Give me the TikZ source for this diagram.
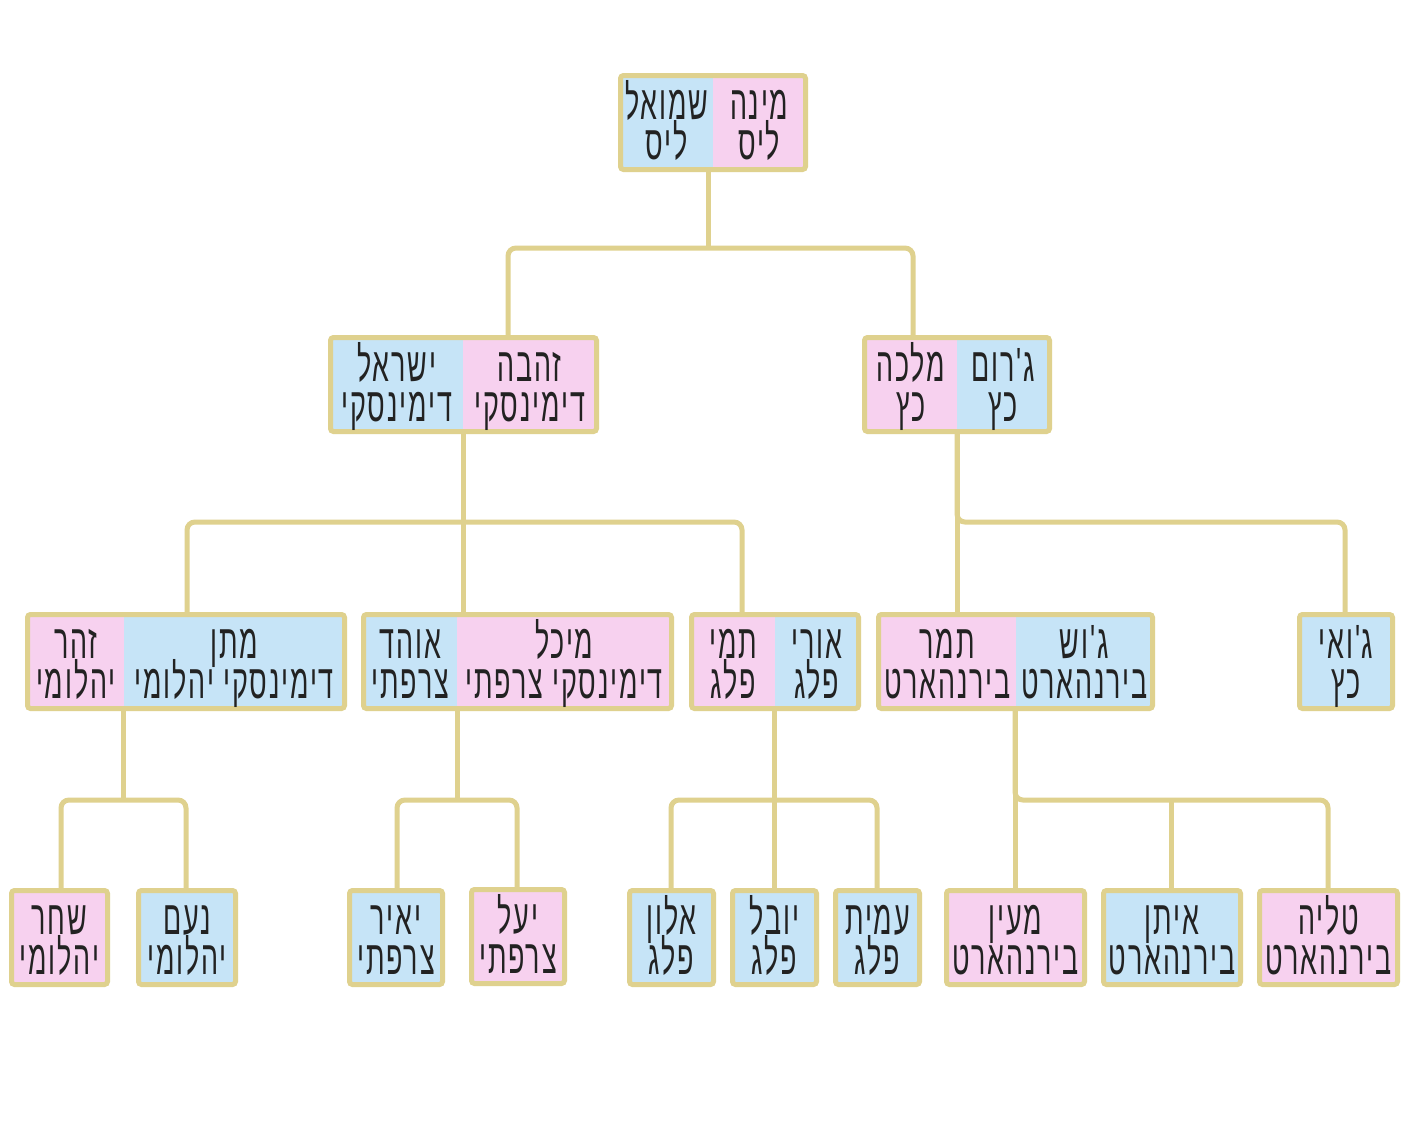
\documentclass[tikz,border=0pt]{standalone}
\usepackage{fontspec}
\usetikzlibrary{fit}
\TeXXeTstate=1
\newfontfamily\hebfont[Script=Hebrew,FakeStretch=0.56,LetterSpace=3.8]{Liberation Sans}
\definecolor{cb}{HTML}{C6E4F7}
\definecolor{cp}{HTML}{F7D1EF}
\definecolor{brd}{HTML}{DFD18E}
\definecolor{ink}{HTML}{222222}
\newcommand\tl[3]{%
  \node[txt] (#1a) at ([yshift=3pt]#1.center) {#2};
  \node[txt] (#1b) at ([yshift=-37pt]#1.center) {#3};}
\begin{document}
\begin{tikzpicture}[x=1pt,y=-1pt,
 half/.style={fill=#1, inner sep=0pt, outer sep=0pt, draw=none},
 txt/.style={anchor=base, inner sep=0pt, text=ink, text height=31pt, text depth=3pt,
   font=\hebfont\fontsize{48}{41}\selectfont},
 frame/.style={draw=brd, line width=5pt, rounded corners=3pt},
 conn/.style={draw=brd, line width=5pt, rounded corners=8pt}]
\useasboundingbox[fill=white] (0,0) rectangle (1420,1130);
% root
\node[half=cb, fit={(620.5,75.5) (713,169.5)}] (rootL) {};
\node[half=cp, fit={(713,75.5) (805.5,169.5)}] (rootR) {};
\draw[frame] (rootL.north west) rectangle (rootR.south east);
\tl{rootL}{\beginR שמואל\endR}{\beginR ליס\endR}
\tl{rootR}{\beginR מינה\endR}{\beginR ליס\endR}
% level 2
\node[half=cb, fit={(330.5,337.5) (463,431.5)}] (AL) {};
\node[half=cp, fit={(463,337.5) (596.5,431.5)}] (AR) {};
\draw[frame] (AL.north west) rectangle (AR.south east);
\tl{AL}{\beginR ישראל\endR}{\beginR דימינסקי\endR}
\tl{AR}{\beginR זהבה\endR}{\beginR דימינסקי\endR}
\node[half=cp, fit={(864.5,337.5) (957,431.5)}] (BL) {};
\node[half=cb, fit={(957,337.5) (1049.5,431.5)}] (BR) {};
\draw[frame] (BL.north west) rectangle (BR.south east);
\tl{BL}{\beginR מלכה\endR}{\beginR כץ\endR}
\tl{BR}{\beginR ג'רום\endR}{\beginR כץ\endR}
% level 3
\node[half=cp, fit={(27.5,614.5) (124,708.5)}] (CL) {};
\node[half=cb, fit={(124,614.5) (344.5,708.5)}] (CR) {};
\draw[frame] (CL.north west) rectangle (CR.south east);
\tl{CL}{\beginR זהר\endR}{\beginR יהלומי\endR}
\tl{CR}{\beginR מתן\endR}{\beginR דימינסקי יהלומי\endR}
\node[half=cb, fit={(363.5,614.5) (457,708.5)}] (DL) {};
\node[half=cp, fit={(457,614.5) (671.5,708.5)}] (DR) {};
\draw[frame] (DL.north west) rectangle (DR.south east);
\tl{DL}{\beginR אוהד\endR}{\beginR צרפתי\endR}
\tl{DR}{\beginR מיכל\endR}{\beginR דימינסקי צרפתי\endR}
\node[half=cp, fit={(691.5,614.5) (775,708.5)}] (EL) {};
\node[half=cb, fit={(775,614.5) (858.5,708.5)}] (ER) {};
\draw[frame] (EL.north west) rectangle (ER.south east);
\tl{EL}{\beginR תמי\endR}{\beginR פלג\endR}
\tl{ER}{\beginR אורי\endR}{\beginR פלג\endR}
\node[half=cp, fit={(878.5,614.5) (1016,708.5)}] (FL) {};
\node[half=cb, fit={(1016,614.5) (1152.5,708.5)}] (FR) {};
\draw[frame] (FL.north west) rectangle (FR.south east);
\tl{FL}{\beginR תמר\endR}{\beginR בירנהארט\endR}
\tl{FR}{\beginR ג'וש\endR}{\beginR בירנהארט\endR}
\node[half=cb, fit={(1299.5,614.5) (1392.5,708.5)}] (G) {};
\draw[frame] (G.north west) rectangle (G.south east);
\tl{G}{\beginR ג'ואי\endR}{\beginR כץ\endR}
% level 4
\node[half=cp, fit={(11.5,890.5) (107.5,984.5)}] (shahar) {};
\node[half=cb, fit={(138.5,890.5) (235.5,984.5)}] (noam) {};
\node[half=cb, fit={(349.5,890.5) (442.5,984.5)}] (yair) {};
\node[half=cp, fit={(471.5,889.5) (564.5,983.5)}] (yael) {};
\node[half=cb, fit={(629.5,890.5) (713.5,984.5)}] (alon) {};
\node[half=cb, fit={(732.5,890.5) (816.5,984.5)}] (yuval) {};
\node[half=cb, fit={(835.5,890.5) (919.5,984.5)}] (amit) {};
\node[half=cp, fit={(946.5,890.5) (1084.5,984.5)}] (maayan) {};
\node[half=cb, fit={(1103.5,890.5) (1240.5,984.5)}] (eitan) {};
\node[half=cp, fit={(1259.5,890.5) (1397.5,984.5)}] (talya) {};
\foreach \n in {shahar,noam,yair,yael,alon,yuval,amit,maayan,eitan,talya}
  \draw[frame] (\n.north west) rectangle (\n.south east);
\tl{shahar}{\beginR שחר\endR}{\beginR יהלומי\endR}
\tl{noam}{\beginR נעם\endR}{\beginR יהלומי\endR}
\tl{yair}{\beginR יאיר\endR}{\beginR צרפתי\endR}
\tl{yael}{\beginR יעל\endR}{\beginR צרפתי\endR}
\tl{alon}{\beginR אלון\endR}{\beginR פלג\endR}
\tl{yuval}{\beginR יובל\endR}{\beginR פלג\endR}
\tl{amit}{\beginR עמית\endR}{\beginR פלג\endR}
\tl{maayan}{\beginR מעין\endR}{\beginR בירנהארט\endR}
\tl{eitan}{\beginR איתן\endR}{\beginR בירנהארט\endR}
\tl{talya}{\beginR טליה\endR}{\beginR בירנהארט\endR}
% connectors root
\draw[conn] (708,0 |- rootL.south) -- (708,248);
\draw[conn] (508,0 |- AR.north) -- (508,248) -- (913,248) -- (913,0 |- BL.north);
% connectors A
\draw[conn] (463,0 |- AL.south) -- (463,0 |- DR.north);
\draw[conn] (187,0 |- CR.north) -- (187,522) -- (742,522) -- (742,0 |- EL.north);
% connectors B
\draw[conn] (957,0 |- BL.south) -- (957,0 |- FL.north);
\draw[conn] (957,0 |- BL.south) -- (957,522) -- (1345,522) -- (1345,0 |- G.north);
% connectors C
\draw[conn] (123,0 |- CR.south) -- (123,800);
\draw[conn] (61,0 |- shahar.north) -- (61,800) -- (186,800) -- (186,0 |- noam.north);
% connectors D
\draw[conn] (457,0 |- DL.south) -- (457,800);
\draw[conn] (397,0 |- yair.north) -- (397,800) -- (517,800) -- (517,0 |- yael.north);
% connectors E
\draw[conn] (774,0 |- ER.south) -- (774,0 |- yuval.north);
\draw[conn] (671,0 |- alon.north) -- (671,800) -- (877,800) -- (877,0 |- amit.north);
% connectors F
\draw[conn] (1015,0 |- FR.south) -- (1015,0 |- maayan.north);
\draw[conn] (1015,0 |- FR.south) -- (1015,800) -- (1328,800) -- (1328,0 |- talya.north);
\draw[conn] (1171,800) -- (1171,0 |- eitan.north);
\end{tikzpicture}
\end{document}
